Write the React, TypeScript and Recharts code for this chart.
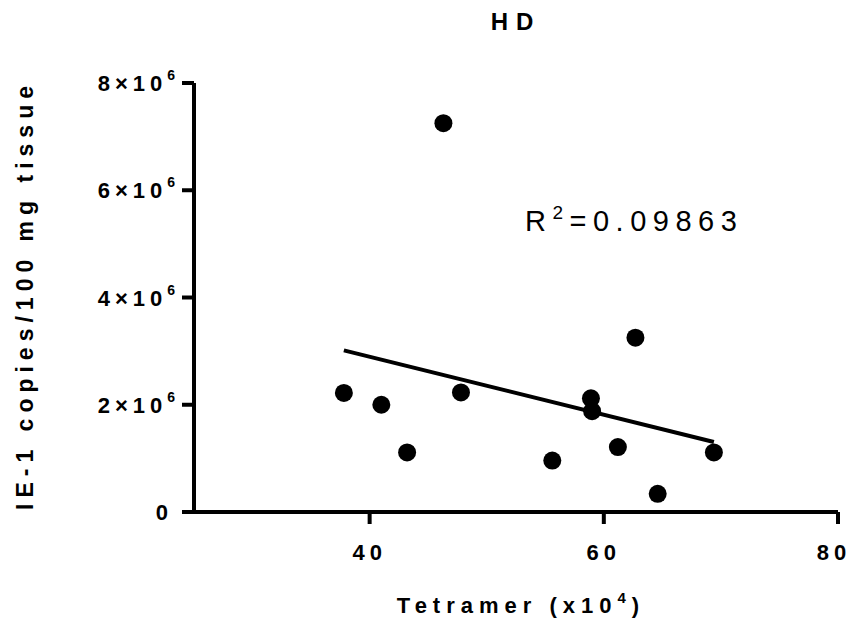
import { ScatterChart, Scatter, XAxis, YAxis } from 'recharts'

const tetramer = [37.8, 41.0, 43.2, 46.3, 47.8, 55.6, 58.9, 59.0, 61.2, 62.7, 64.6, 69.4]
const ie1Copies = [
  2.22e6, 2.0e6, 1.11e6, 7.25e6, 2.23e6, 0.96e6, 2.12e6, 1.88e6, 1.21e6, 3.25e6, 0.34e6, 1.11e6,
]
const xTicks = [40, 60, 80]
const yTicks = [0, 2e6, 4e6, 6e6, 8e6]
const rSquaredLabel = '0.09863'

const points = tetramer.map((x, i) => ({ x, y: ie1Copies[i] }))

// least squares fit, drawn between the smallest and largest x
function linearFit(xs: number[], ys: number[]) {
  const n = xs.length
  const mx = xs.reduce((a, b) => a + b, 0) / n
  const my = ys.reduce((a, b) => a + b, 0) / n
  let sxy = 0
  let sxx = 0
  xs.forEach((x, i) => {
    sxy += (x - mx) * (ys[i] - my)
    sxx += (x - mx) * (x - mx)
  })
  const slope = sxy / sxx
  return { slope, intercept: my - slope * mx }
}

const fit = linearFit(tetramer, ie1Copies)
const xMin = Math.min(...tetramer)
const xMax = Math.max(...tetramer)
const fitLine = [
  { x: xMin, y: fit.intercept + fit.slope * xMin },
  { x: xMax, y: fit.intercept + fit.slope * xMax },
]

const FONT = '"Liberation Sans", Arial, sans-serif'

function YTick(props: any) {
  const { x, y, payload } = props
  const m = payload.value / 1e6
  if (m === 0) {
    return (
      <text x={x - 10} y={y} dy={8} textAnchor="end" fontFamily={FONT} fontWeight="bold" fontSize={22} fill="#000">
        0
      </text>
    )
  }
  return (
    <text x={x + 2} y={y} dy={8} textAnchor="end" fontFamily={FONT} fontWeight="bold" fontSize={22} letterSpacing={5} fill="#000">
      {`${m}×10`}
      <tspan dy={-11} fontSize={14}>6</tspan>
    </text>
  )
}

function XTick(props: any) {
  const { x, y, payload } = props
  const last = payload.value === xTicks[xTicks.length - 1]
  return (
    <text x={last ? x - 4 : x} y={y} dy={22} textAnchor="middle" fontFamily={FONT} fontWeight="bold" fontSize={22} letterSpacing={5} fill="#000">
      {payload.value}
    </text>
  )
}

const Dot = (props: any) => <circle cx={props.cx} cy={props.cy} r={9} fill="#000" />

export default function App() {
  return (
    <div style={{ position: 'absolute', left: 0, top: 0, width: 854, height: 632, background: '#fff', fontFamily: FONT }}>
      <ScatterChart width={854} height={632} margin={{ top: 83, right: 16, bottom: 70, left: 134 }}>
        <XAxis
          type="number"
          dataKey="x"
          domain={[25, 80]}
          ticks={xTicks}
          height={50}
          axisLine={{ stroke: '#000', strokeWidth: 4 }}
          tickLine={{ stroke: '#000', strokeWidth: 4 }}
          tickSize={12}
          tickMargin={14}
          tick={<XTick />}
        />
        <YAxis
          type="number"
          dataKey="y"
          domain={[0, 8e6]}
          ticks={yTicks}
          width={60}
          axisLine={{ stroke: '#000', strokeWidth: 4 }}
          tickLine={{ stroke: '#000', strokeWidth: 4 }}
          tickSize={12}
          tickMargin={4}
          tick={<YTick />}
        />
        <Scatter data={points} fill="#000" shape={<Dot />} isAnimationActive={false} />
        <Scatter
          data={fitLine}
          line={{ stroke: '#000', strokeWidth: 4 }}
          shape={() => null}
          isAnimationActive={false}
        />
      </ScatterChart>

      <div style={{ position: 'absolute', left: 416, top: 10, width: 200, textAlign: 'center', fontSize: 24, lineHeight: '24px', fontWeight: 'bold', letterSpacing: 8 }}>
        HD
      </div>

      <div style={{ position: 'absolute', left: 525, top: 207, fontSize: 29, lineHeight: '29px', letterSpacing: 6.5, whiteSpace: 'nowrap' }}>
        R<span style={{ fontSize: 19, position: 'relative', top: -12 }}>2</span>={rSquaredLabel}
      </div>

      <div style={{ position: 'absolute', left: 321, top: 595, width: 400, textAlign: 'center', fontSize: 22, lineHeight: '22px', fontWeight: 'bold', letterSpacing: 6, whiteSpace: 'nowrap' }}>
        Tetramer (x10<span style={{ fontSize: 15, position: 'relative', top: -10 }}>4</span>)
      </div>

      <div
        style={{
          position: 'absolute',
          left: 25 - 240,
          top: 295 - 13,
          width: 480,
          height: 26,
          textAlign: 'center',
          fontSize: 23,
          lineHeight: '26px',
          fontWeight: 'bold',
          letterSpacing: 6,
          whiteSpace: 'nowrap',
          transform: 'rotate(-90deg)',
        }}
      >
        IE-1 copies/100 mg tissue
      </div>
    </div>
  )
}
